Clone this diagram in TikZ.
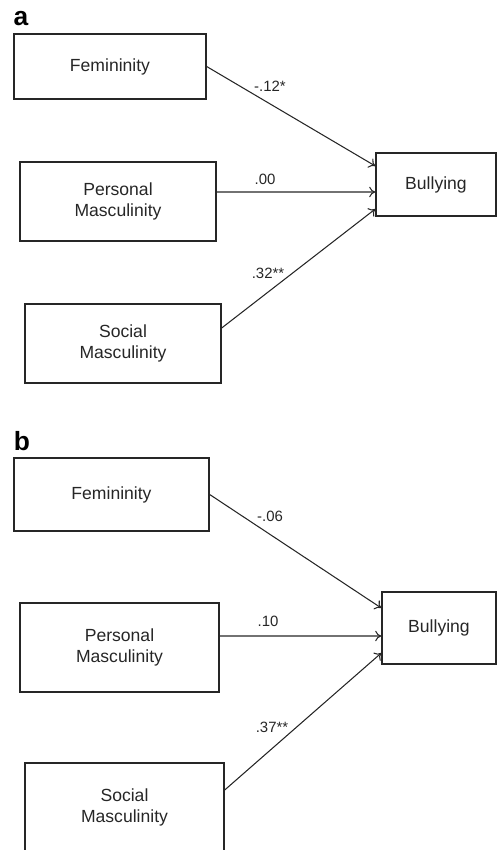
\documentclass[tikz,border=0pt]{standalone}
\usepackage{fontspec}
\setmainfont{Liberation Sans}
\usetikzlibrary{arrows.meta}
\begin{document}
\begin{tikzpicture}[x=0.02cm,y=-0.02cm,
  box/.style={draw=black!85,line width=0.8pt,align=center,text=black!85,font=\fontsize{10}{11.5}\selectfont},
  coef/.style={text=black!85,font=\fontsize{8.5}{9}\selectfont},
  panel/.style={font=\fontsize{15}{16}\selectfont\bfseries},
  link/.style={-{To[length=3.5pt,width=6pt]},color=black!85,line width=0.6pt}]
\useasboundingbox (0,0) rectangle (497,850);
% panel a
\node(pa) at (21,19)[panel] {a};
\node(a1) at (110,66.5)[box,minimum width=3.84cm,minimum height=1.30cm] {Femininity};
\node(a2) at (118,201.5)[box,minimum width=3.92cm,minimum height=1.58cm] {Personal\\Masculinity};
\node(a3) at (123,343.5)[box,minimum width=3.92cm,minimum height=1.58cm] {Social\\Masculinity};
\node(a4) at (436,184.5)[box,minimum width=2.40cm,minimum height=1.26cm] {Bullying};
\path[link] (a1.east) edge ([yshift=0.37cm]a4.west);
\path[link] ([yshift=0.19cm]a2.east) edge ([yshift=-0.15cm]a4.west);
\path[link] ([yshift=0.31cm]a3.east) edge ([yshift=-0.49cm]a4.west);
\node at (270,86)[coef] {-.12*};
\node at (265,179)[coef] {.00};
\node at (268,273)[coef] {.32**};
% panel b
\node(pb) at (22,441)[panel] {b};
\node(b1) at (111.5,494.5)[box,minimum width=3.90cm,minimum height=1.46cm] {Femininity};
\node(b2) at (119.5,647.5)[box,minimum width=3.98cm,minimum height=1.78cm] {Personal\\Masculinity};
\node(b3) at (124.5,807.5)[box,minimum width=3.98cm,minimum height=1.78cm] {Social\\Masculinity};
\node(b4) at (439,628)[box,minimum width=2.28cm,minimum height=1.44cm] {Bullying};
\path[link] (b1.east) edge ([yshift=0.40cm]b4.west);
\path[link] ([yshift=0.23cm]b2.east) edge ([yshift=-0.16cm]b4.west);
\path[link] ([yshift=0.35cm]b3.east) edge ([yshift=-0.50cm]b4.west);
\node at (270,516)[coef] {-.06};
\node at (268,621)[coef] {.10};
\node at (272,727)[coef] {.37**};
\end{tikzpicture}
\end{document}
